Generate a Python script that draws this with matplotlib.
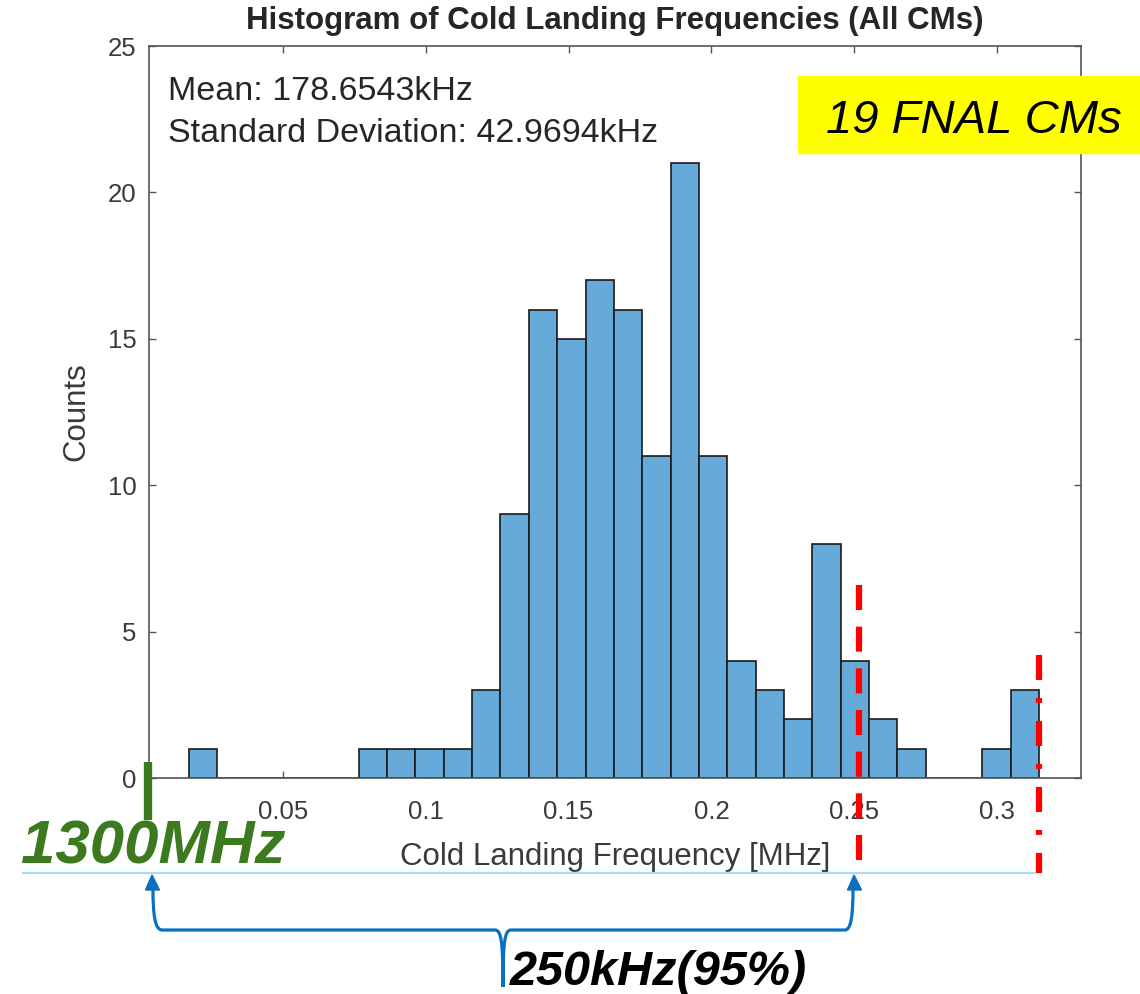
import numpy as np
import matplotlib
matplotlib.use('Agg')
import matplotlib.pyplot as plt
from matplotlib.path import Path
from matplotlib.patches import PathPatch, Rectangle, Polygon

plt.rcParams['font.family'] = ['Liberation Sans', 'DejaVu Sans']
plt.rcParams['lines.scale_dashes'] = False

# histogram counts (30 bins)
counts = [1, 0, 0, 0, 0, 0, 1, 1, 1, 1, 3, 9, 16, 15, 17, 16, 11, 21, 11, 4,
          3, 2, 8, 4, 2, 1, 0, 0, 1, 3]
bin_lo = 0.0170   # MHz
bin_hi = 0.3147   # MHz
xticks = [0.05, 0.1, 0.15, 0.2, 0.25, 0.3]
xtick_labels = ['0.05', '0.1', '0.15', '0.2', '0.25', '0.3']
yticks = [0, 5, 10, 15, 20, 25]
limit_95 = 0.2517  # MHz, 95% line
mean_txt = 'Mean: 178.6543kHz'
std_txt = 'Standard Deviation: 42.9694kHz'

W, H = 1140, 994
edges = np.linspace(bin_lo, bin_hi, len(counts) + 1)

fig = plt.figure(figsize=(W / 100, H / 100), dpi=100)
ax = fig.add_axes([149 / W, 1 - 778 / H, (1081 - 149) / W, (778 - 46) / H])

ax.bar(edges[:-1], counts, width=np.diff(edges), align='edge',
       color='#65aad8', edgecolor='#1a1a1a', linewidth=1.2, zorder=2)

ax.set_xlim(0.0031, 0.3294)
ax.set_ylim(0, 25)
ax.set_xticks(xticks)
ax.set_xticklabels(xtick_labels)
ax.set_yticks(yticks)
ax.tick_params(direction='in', length=5, width=1, color='#555555',
               labelsize=18.5, labelcolor='#3a3a3a', top=True, right=True)
ax.tick_params(axis='x', pad=16)
ax.tick_params(axis='y', pad=9)
for s in ax.spines.values():
    s.set_color('#555555')
    s.set_linewidth(1.2)

ax.set_title('Histogram of Cold Landing Frequencies (All CMs)', fontsize=22.5,
             fontweight='bold', color='#262626', pad=12)
ax.set_xlabel('Cold Landing Frequency [MHz]', fontsize=22.5, color='#3a3a3a', labelpad=13)
ax.set_ylabel('Counts', fontsize=22.5, color='#3a3a3a', labelpad=12)

# red markers, 95% and max
ax.plot([limit_95, limit_95], [6.6, -3.25], color='red', lw=4.5,
        dashes=(18, 12), clip_on=False, zorder=5)
ax.plot([bin_hi, bin_hi], [4.2, -3.25], color='red', lw=4.5,
        dashes=(18, 13, 3.5, 13), clip_on=False, zorder=5)

# overlay in pixel coords for the slide annotations
ov = fig.add_axes([0, 0, 1, 1])
ov.set_xlim(0, W)
ov.set_ylim(H, 0)
ov.axis('off')
ov.patch.set_alpha(0)

ov.text(168, 100, mean_txt, fontsize=24.5, color='#262626', va='baseline')
ov.text(168, 142, std_txt, fontsize=24.5, color='#262626', va='baseline')

ov.add_patch(Rectangle((798, 76), W - 798, 77, color='#ffff00', zorder=3))
ov.text(826, 133, '19 FNAL CMs', fontsize=34, style='italic', color='black',
        va='baseline', zorder=4)

green = '#3b7a1f'
ov.plot([147.5, 147.5], [762, 820], color=green, lw=6, solid_capstyle='butt')
ov.text(21, 863, '1300MHz', fontsize=44.5, fontweight='bold', style='italic',
        color=green, va='baseline')

ov.plot([23, 1035], [873, 873], color='#a9dcf0', lw=1.6)

blue = '#0a70c0'
verts = [(153, 889), (153, 915), (155, 930), (162, 930),
         (495, 930),
         (501, 930), (503, 940), (503, 987),
         (503, 940), (505, 930), (511, 930),
         (845, 930),
         (851, 930), (853, 915), (853, 889)]
codes = [Path.MOVETO, Path.CURVE4, Path.CURVE4, Path.CURVE4,
         Path.LINETO,
         Path.CURVE4, Path.CURVE4, Path.CURVE4,
         Path.CURVE4, Path.CURVE4, Path.CURVE4,
         Path.LINETO,
         Path.CURVE4, Path.CURVE4, Path.CURVE4]
ov.add_patch(PathPatch(Path(verts, codes), facecolor='none', edgecolor=blue, lw=2.3))
ov.add_patch(Polygon([(152, 875), (145.5, 890), (159.5, 890)], color=blue))
ov.add_patch(Polygon([(854, 875), (847.5, 890), (861.5, 890)], color=blue))

ov.text(510, 985, '250kHz(95%)', fontsize=35, fontweight='bold', style='italic',
        color='black', va='baseline')

fig.savefig('out.png', dpi=100)
